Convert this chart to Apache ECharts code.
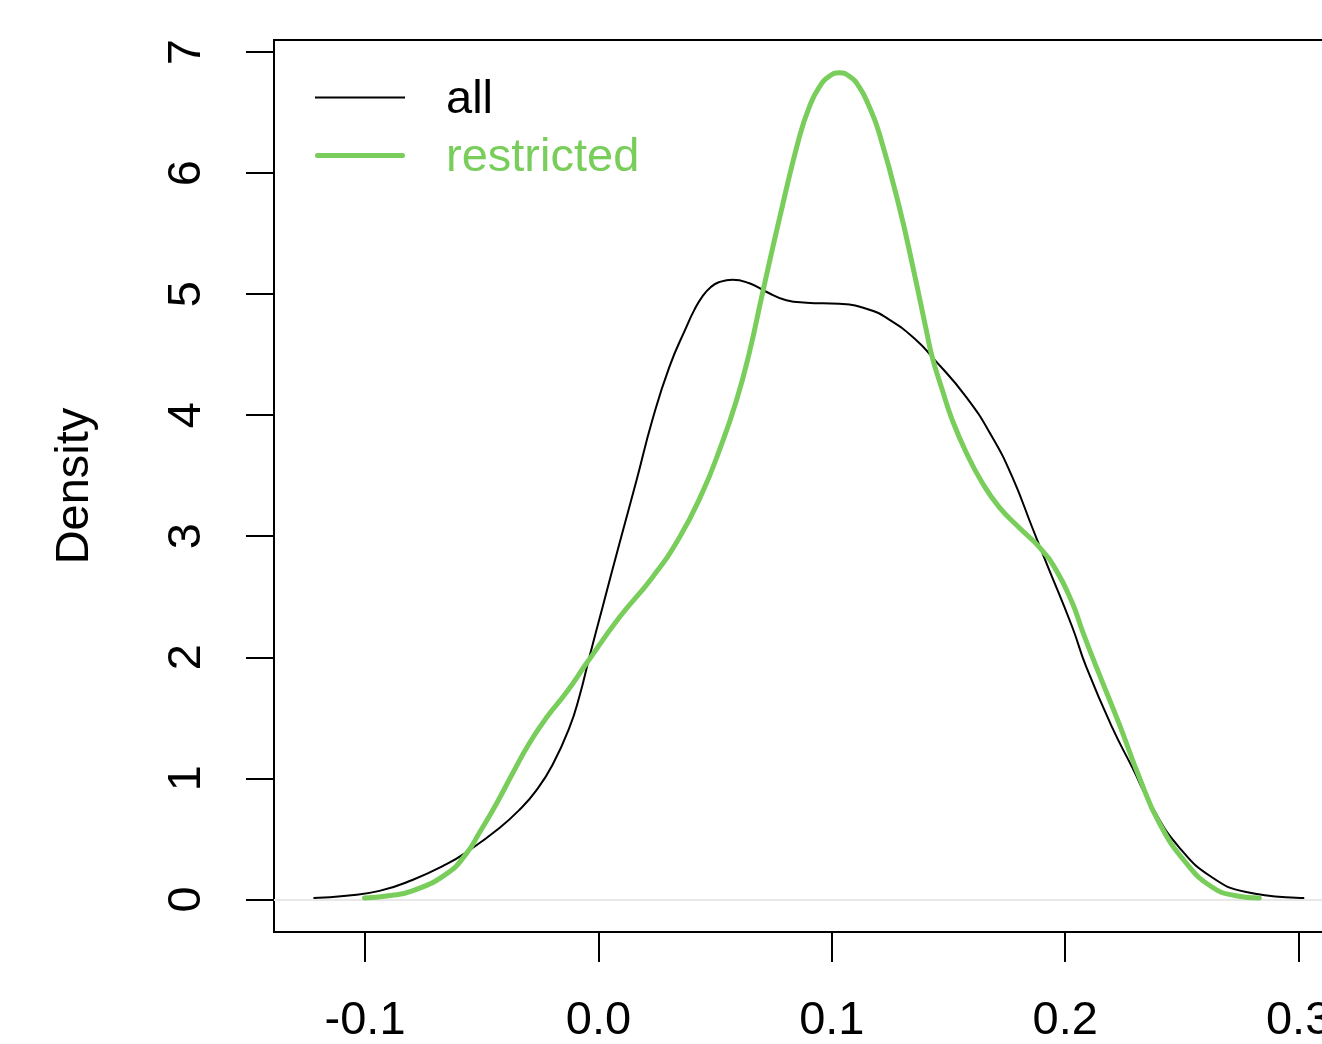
<!DOCTYPE html>
<html>
<head>
<meta charset="utf-8">
<title>Density</title>
<script src="https://cdn.jsdelivr.net/npm/echarts@6/dist/echarts.min.js"></script>
<style>
  html, body { margin: 0; padding: 0; background: #fff; }
  #chart { width: 1322px; height: 1044px; }
</style>
</head>
<body>
<div id="chart"></div>
<script>
// density estimates
var allX = [-0.1221, -0.1080, -0.0938, -0.0797, -0.0651, -0.0565, -0.0424, -0.0338, -0.0266, -0.0197, -0.0124, -0.0081, -0.0039, 0.0017, 0.0090, 0.0163, 0.0231, 0.0304, 0.0377, 0.0411, 0.0445, 0.0482, 0.0518, 0.0574, 0.0647, 0.0719, 0.0805, 0.0891, 0.1032, 0.1148, 0.1246, 0.1362, 0.1430, 0.1576, 0.1687, 0.1773, 0.1859, 0.1919, 0.2030, 0.2090, 0.2201, 0.2287, 0.2373, 0.2488, 0.2630, 0.2775, 0.3024];
var allY = [0.01, 0.03, 0.07, 0.16, 0.29, 0.39, 0.59, 0.74, 0.90, 1.11, 1.42, 1.68, 2.00, 2.41, 2.94, 3.46, 3.96, 4.40, 4.73, 4.87, 4.98, 5.06, 5.10, 5.12, 5.09, 5.02, 4.95, 4.93, 4.92, 4.88, 4.79, 4.62, 4.48, 4.15, 3.82, 3.49, 3.07, 2.78, 2.25, 1.92, 1.42, 1.09, 0.76, 0.43, 0.18, 0.06, 0.01];

var restrictedX = [-0.1002, -0.0900, -0.0797, -0.0651, -0.0565, -0.0510, -0.0437, -0.0368, -0.0296, -0.0223, -0.0137, -0.0051, 0.0090, 0.0231, 0.0347, 0.0445, 0.0518, 0.0591, 0.0647, 0.0702, 0.0775, 0.0861, 0.0904, 0.0946, 0.0989, 0.1032, 0.1075, 0.1118, 0.1160, 0.1203, 0.1289, 0.1350, 0.1405, 0.1430, 0.1473, 0.1516, 0.1576, 0.1645, 0.1717, 0.1803, 0.1889, 0.1961, 0.2030, 0.2073, 0.2133, 0.2231, 0.2317, 0.2403, 0.2518, 0.2630, 0.2730, 0.2831];
var restrictedY = [0.01, 0.03, 0.07, 0.21, 0.38, 0.55, 0.79, 1.04, 1.29, 1.50, 1.71, 1.95, 2.33, 2.66, 2.99, 3.36, 3.71, 4.12, 4.52, 5.00, 5.62, 6.30, 6.55, 6.71, 6.80, 6.83, 6.80, 6.71, 6.55, 6.33, 5.72, 5.20, 4.70, 4.48, 4.21, 3.96, 3.69, 3.44, 3.24, 3.07, 2.91, 2.72, 2.45, 2.22, 1.92, 1.45, 1.01, 0.63, 0.30, 0.10, 0.03, 0.01];

var xTicks = [-0.1, 0.0, 0.1, 0.2, 0.3];
var yTicks = [0, 1, 2, 3, 4, 5, 6, 7];

var seriesNames = ["all", "restricted"];
var green = "#79cd5b";
var font = "Liberation Sans, Arial, Helvetica, sans-serif";

// legend keys: a bar a little above the middle of a 90x20 box
var allKey = "path://M0,0L90,0M0,6H90V8H0ZM0,20L90,20";
var restrictedKey = "path://M0,0L90,0M2.5,4.5H87.5A2.5,2.5,0,0,1,87.5,9.5H2.5A2.5,2.5,0,0,1,2.5,4.5ZM0,20L90,20";

function pairs(xs, ys) {
  var out = [];
  for (var i = 0; i < xs.length; i++) {
    out.push([xs[i], ys[i]]);
  }
  return out;
}

var myChart = echarts.init(document.getElementById("chart"));

var option = {
  animation: false,
  backgroundColor: "#fff",
  textStyle: { fontFamily: font },
  grid: {
    left: 274,
    top: 40,
    width: 1069, // the box runs past the right edge, as in the original
    height: 892,
    outerBoundsMode: "none",
    containLabel: false,
    show: true,
    borderColor: "#000",
    borderWidth: 2,
    backgroundColor: "transparent",
  },
  legend: {
    orient: "vertical",
    left: 315,
    top: 77,
    padding: 0,
    itemWidth: 90,
    itemHeight: 20,
    itemGap: 11,
    selectedMode: false,
    textStyle: {
      fontSize: 47,
      fontFamily: font,
      padding: [0, 0, 0, 36],
    },
    data: [
      {
        name: seriesNames[0],
        icon: allKey,
        itemStyle: { color: "#000", borderWidth: 0 },
        textStyle: { color: "#000" },
      },
      {
        name: seriesNames[1],
        icon: restrictedKey,
        itemStyle: { color: green, borderWidth: 0 },
        textStyle: { color: green },
      },
    ],
  },
  xAxis: {
    type: "value",
    min: -0.139,
    max: 0.319,
    axisLine: { show: false, onZero: false },
    splitLine: { show: false },
    axisTick: {
      show: true,
      inside: false,
      length: 30,
      customValues: xTicks,
      lineStyle: { color: "#000", width: 2 },
    },
    axisLabel: {
      customValues: xTicks,
      margin: 66,
      fontSize: 47,
      color: "#000",
      fontFamily: font,
      formatter: function (v) {
        return v.toFixed(1);
      },
    },
  },
  yAxis: {
    type: "value",
    min: -0.27,
    max: 7.1,
    name: "Density",
    nameLocation: "middle",
    nameRotate: 90,
    nameGap: 175,
    nameTextStyle: { fontSize: 47, color: "#000", fontFamily: font },
    axisLine: { show: false, onZero: false },
    splitLine: { show: false },
    axisTick: {
      show: true,
      inside: false,
      length: 28,
      customValues: yTicks,
      lineStyle: { color: "#000", width: 2 },
    },
    axisLabel: {
      customValues: yTicks,
      rotate: 90,
      margin: 63,
      fontSize: 47,
      color: "#000",
      fontFamily: font,
    },
  },
  series: [
    {
      name: seriesNames[0],
      type: "line",
      data: pairs(allX, allY),
      smooth: 0.5,
      symbol: "none",
      color: "#000",
      lineStyle: { color: "#000", width: 2 },
      z: 3,
      markLine: {
        silent: true,
        symbol: ["none", "none"],
        label: { show: false },
        lineStyle: { color: "#e8e8e8", type: "solid", width: 2 },
        data: [{ yAxis: 0 }],
        z: 1,
      },
    },
    {
      name: seriesNames[1],
      type: "line",
      data: pairs(restrictedX, restrictedY),
      smooth: 0.5,
      symbol: "none",
      color: green,
      lineStyle: { color: green, width: 5, cap: "round" },
      z: 4,
    },
  ],
};

myChart.setOption(option);
</script>
</body>
</html>
